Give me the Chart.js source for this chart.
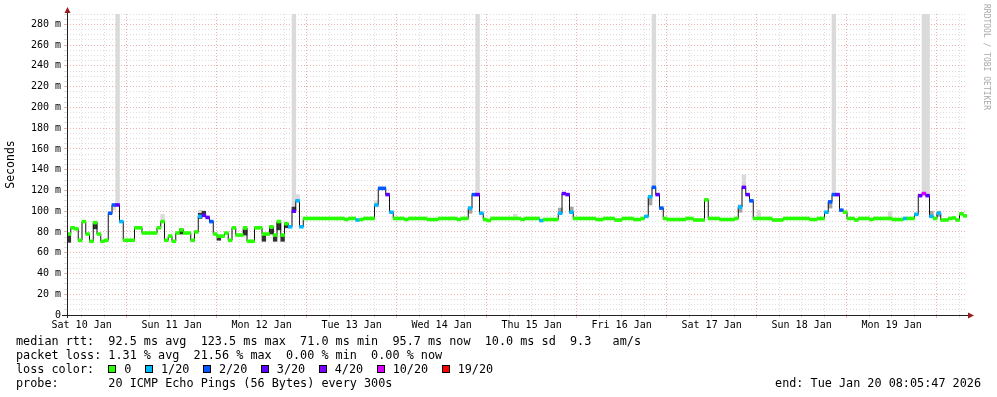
<!DOCTYPE html>
<html lang="en">
<head>
<meta charset="UTF-8">
<title>Smokeping - last 10 days</title>
<script src="https://cdn.jsdelivr.net/npm/chart.js"></script>
<style>
  body { margin: 0; background: #fff; }
  #wrap { position: relative; width: 997px; height: 397px; background: #fff; }
  #stamp { position: absolute; left: 982px; top: 4px; writing-mode: vertical-rl; font: 8px "DejaVu Sans Mono", monospace; color: #aaa; }
  #legend { position: absolute; left: 16px; top: 334px; width: 965px; font: 11.8px/14px "DejaVu Sans Mono", monospace; color: #000; }
  .row { height: 14px; white-space: pre; }
  .sw { display: inline-block; width: 6px; height: 6px; border: 1px solid #000; vertical-align: 0px; margin-right: 8px; }
  .lab { margin-right: 13.5px; }
</style>
</head>
<body>
<div id="wrap">
  <canvas id="rtt" width="997" height="397"></canvas>
  <div id="stamp">RRDTOOL / TOBI OETIKER</div>
  <div id="legend"><div class="row">median rtt:  92.5 ms avg  123.5 ms max  71.0 ms min  95.7 ms now  10.0 ms sd  9.3   am/s</div><div class="row">packet loss: 1.31 % avg  21.56 % max  0.00 % min  0.00 % now</div><div class="row" id="lossRow">loss color:  </div><div class="row"><span>probe:       20 ICMP Echo Pings (56 Bytes) every 300s</span><span style="float:right">end: Tue Jan 20 08:05:47 2026</span></div></div>
</div>

<script>
// graph covers 240 one-hour steps, starting Sat 10 Jan 08:05:47
const SLOTS = 240;
const startHour = 8 + 5 / 60 + 47 / 3600;
const yMax = 290;

const dayLabels = ['Sat 10 Jan', 'Sun 11 Jan', 'Mon 12 Jan', 'Tue 13 Jan', 'Wed 14 Jan',
                   'Thu 15 Jan', 'Fri 16 Jan', 'Sat 17 Jan', 'Sun 18 Jan', 'Mon 19 Jan'];

const lossLabels = ['0', '1/20', '2/20', '3/20', '4/20', '10/20', '19/20'];
const lossColors = ['#26ff00', '#00b8ff', '#0059ff', '#5e00ff', '#7e00ff', '#dd00ff', '#ff0000'];

// median rtt (ms) as runs: first hour slot of the run, value, loss colour index
const runStart  = [0, 1, 2, 3, 4, 5, 6, 7, 8, 9, 10, 11, 12, 13, 14, 15, 18, 20, 24, 25, 26, 27, 28, 29, 30, 31, 33, 34, 35, 36, 37, 38, 39, 40, 42, 43, 44, 45, 47, 48, 50, 52, 54, 55, 56, 57, 58, 59, 60, 61, 62, 63, 74, 75, 77, 78, 79, 82, 83, 85, 86, 87, 90, 91, 96, 99, 104, 105, 107, 108, 109, 110, 111, 112, 113, 121, 122, 126, 127, 131, 132, 133, 134, 135, 141, 143, 146, 148, 151, 153, 154, 155, 156, 157, 158, 159, 160, 165, 167, 170, 171, 174, 178, 179, 180, 181, 182, 183, 188, 191, 198, 200, 202, 203, 204, 205, 206, 207, 208, 210, 211, 214, 215, 220, 223, 224, 226, 227, 228, 229, 230, 231, 232, 233, 235, 236, 237, 238, 239];
const runMedian = [78, 84, 83, 72, 90, 78, 71, 89, 78, 71, 72, 98, 106, 106, 90, 72, 84, 79, 84, 90, 72, 76, 71, 79, 82, 79, 72, 80, 95, 96, 94, 90, 78, 76, 79, 72, 84, 77, 84, 71, 84, 78, 85, 77, 90, 77, 88, 85, 100, 110, 85, 93, 92, 93, 91.5, 92, 93, 106, 122, 116, 99, 93, 92, 93, 92, 93, 92, 93, 103, 116, 116, 98, 92, 91, 93, 92, 93, 91, 92, 98, 117, 116, 99, 93, 92, 93, 91.5, 93, 92, 93, 95, 114, 123, 116, 103, 93, 92, 93, 91.5, 111, 93, 92, 93, 104, 123, 116, 110, 93, 91.5, 93, 92, 93, 99, 109, 116, 116, 101, 99, 93, 91.5, 93, 92, 93, 92, 93, 93, 97, 115, 117, 115, 95, 93, 98, 91.5, 93, 93.5, 91.5, 97.5, 95.5];
const runLoss   = [0, 0, 0, 0, 0, 0, 0, 0, 0, 0, 0, 2, 2, 3, 1, 0, 0, 0, 0, 0, 0, 0, 0, 0, 0, 0, 0, 0, 1, 3, 3, 2, 0, 0, 0, 0, 0, 0, 0, 0, 0, 0, 0, 0, 0, 0, 0, 1, 3, 1, 1, 0, 0, 0, 1, 0, 0, 1, 2, 3, 1, 0, 0, 0, 0, 0, 0, 0, 1, 2, 3, 1, 0, 0, 0, 0, 0, 1, 0, 1, 3, 3, 1, 0, 0, 0, 0, 0, 0, 0, 1, 1, 2, 3, 2, 0, 0, 0, 0, 0, 0, 0, 0, 1, 3, 3, 2, 0, 0, 0, 0, 0, 1, 2, 2, 3, 2, 0, 0, 0, 0, 0, 0, 0, 1, 0, 1, 3, 5, 3, 1, 0, 1, 0, 0, 0, 0, 0, 0];

// smoke (spread of the 20 pings): hour slot, low, high, shade (0 light, 1 mid, 2 dark)
const smokeSlot  = [12, 13, 25, 35, 60, 61, 82, 109, 119, 156, 180, 184, 204, 219, 228, 229, 107, 131, 134, 155, 179, 203, 230, 232, 0, 7, 30, 35, 36, 40, 47, 52, 54, 55, 56, 57, 58, 60];
const smokeLow   = [101, 106, 90, 96, 104, 110, 104, 116, 93, 123, 123, 93, 116, 93, 117, 115, 98, 97, 98, 106, 99, 103, 94, 95, 70, 83, 78, 93, 96, 72, 77, 71, 78, 71, 82, 71, 84, 100];
const smokeHigh  = [106, 290, 97, 101, 290, 116, 110, 290, 97, 290, 135, 101, 290, 100, 290, 290, 104, 103, 104, 114, 106, 109, 100, 100, 78, 89, 83, 98, 100, 76, 82, 77, 83, 77, 89, 77, 88, 104];
const smokeShade = [0, 0, 0, 0, 0, 0, 0, 0, 0, 0, 0, 0, 0, 0, 0, 0, 1, 1, 1, 1, 1, 1, 1, 1, 2, 2, 2, 2, 2, 2, 2, 2, 2, 2, 2, 2, 2, 2];
const shadeColors = ['#dadada', '#a4a4a4', '#333333'];

// expand the runs into one value per hour slot
const median = [], loss = [];
runStart.forEach(function (s, i) {
    const end = i + 1 < runStart.length ? runStart[i + 1] : SLOTS;
    for (let k = s; k < end; k++) {
        median.push(runMedian[i]);
        loss.push(runLoss[i]);
    }
});
const slotX = k => startHour + k + 0.5;

// loss colour legend
const lossRow = document.getElementById('lossRow');
lossLabels.forEach(function (lab, i) {
    const sw = document.createElement('span');
    sw.className = 'sw';
    sw.style.background = lossColors[i];
    const t = document.createElement('span');
    t.className = 'lab';
    t.textContent = lab;
    lossRow.appendChild(sw);
    lossRow.appendChild(t);
});

// axis lines with the little rrdtool arrows
const axisArrows = {
    id: 'axisArrows',
    afterDraw(chart) {
        const { ctx, chartArea: a } = chart;
        const x0 = a.left + 0.5, y0 = a.bottom + 0.5;
        ctx.save();
        ctx.strokeStyle = '#222';
        ctx.lineWidth = 1;
        ctx.beginPath();
        ctx.moveTo(x0, a.bottom + 3);
        ctx.lineTo(x0, a.top - 5);
        ctx.moveTo(a.left - 5, y0);
        ctx.lineTo(a.right + 2, y0);
        ctx.stroke();
        ctx.fillStyle = '#9b1c1c';
        ctx.beginPath();
        ctx.moveTo(x0, a.top - 7);
        ctx.lineTo(x0 - 3, a.top - 1);
        ctx.lineTo(x0 + 3, a.top - 1);
        ctx.fill();
        ctx.beginPath();
        ctx.moveTo(a.right + 7, y0);
        ctx.lineTo(a.right + 1, y0 - 3);
        ctx.lineTo(a.right + 1, y0 + 3);
        ctx.fill();
        ctx.restore();
    }
};

const gridRed = '#eab0b0';
const gridGrey = '#dedede';
const monoFont = { family: 'DejaVu Sans Mono', size: 10 };

new Chart(document.getElementById('rtt').getContext('2d'), {
    type: 'bar',
    data: {
        datasets: [
            {
                label: 'smoke',
                data: smokeSlot.map((k, i) => ({ x: slotX(k), y: [smokeLow[i], smokeHigh[i]] })),
                backgroundColor: smokeShade.map(s => shadeColors[s]),
                borderWidth: 0,
                grouped: false,
                barPercentage: 1,
                categoryPercentage: 1,
                order: 3
            },
            {
                type: 'line',
                label: 'median',
                data: median.map((v, k) => ({ x: slotX(k), y: v })),
                borderColor: '#111',
                borderWidth: 1,
                stepped: 'middle',
                pointRadius: 0,
                order: 2
            },
            {
                label: 'loss',
                data: median.map((v, k) => ({ x: slotX(k), y: [v - 1.4, v + 1.4] })),
                backgroundColor: loss.map(l => lossColors[l]),
                borderWidth: 0,
                grouped: false,
                barPercentage: 1,
                categoryPercentage: 1,
                order: 1
            }
        ]
    },
    options: {
        responsive: false,
        animation: false,
        devicePixelRatio: 1,
        layout: { padding: { left: 0, right: 30, top: 14, bottom: 62 } },
        plugins: { legend: { display: false }, tooltip: { enabled: false } },
        scales: {
            x: {
                type: 'linear',
                min: startHour,
                max: startHour + SLOTS,
                offset: false,
                afterBuildTicks: function (s) {
                    s.ticks = [];
                    for (let h = Math.ceil(s.min / 6) * 6; h <= s.max; h += 6) s.ticks.push({ value: h });
                },
                afterFit: function (s) { s.height = 20; },
                ticks: {
                    autoSkip: false,
                    maxRotation: 0,
                    padding: 1,
                    color: '#000',
                    font: monoFont,
                    callback: v => (v % 24 === 12 ? dayLabels[(v - 12) / 24] : '')
                },
                grid: {
                    offset: false,
                    tickLength: 3,
                    color: c => (c.tick && c.tick.value % 24 === 0 ? gridRed : gridGrey)
                },
                border: { display: false, dash: [1, 2] }
            },
            y: {
                min: 0,
                max: yMax,
                afterBuildTicks: function (s) {
                    s.ticks = [];
                    for (let v = 0; v <= yMax; v += 5) s.ticks.push({ value: v });
                },
                afterFit: function (s) { s.width = 67; },
                ticks: {
                    autoSkip: false,
                    padding: 3,
                    color: '#000',
                    font: monoFont,
                    callback: v => (v % 20 ? '' : v === 0 ? '0' : v + ' m')
                },
                grid: {
                    tickLength: 3,
                    color: c => (c.tick && c.tick.value % 20 === 0 ? gridRed : gridGrey)
                },
                border: { display: false, dash: [1, 2] },
                title: {
                    display: true,
                    text: 'Seconds',
                    color: '#000',
                    font: { family: 'DejaVu Sans Mono', size: 11.5 },
                    padding: { top: 4, bottom: 0 }
                }
            }
        }
    },
    plugins: [axisArrows]
});
</script>
</body>
</html>
